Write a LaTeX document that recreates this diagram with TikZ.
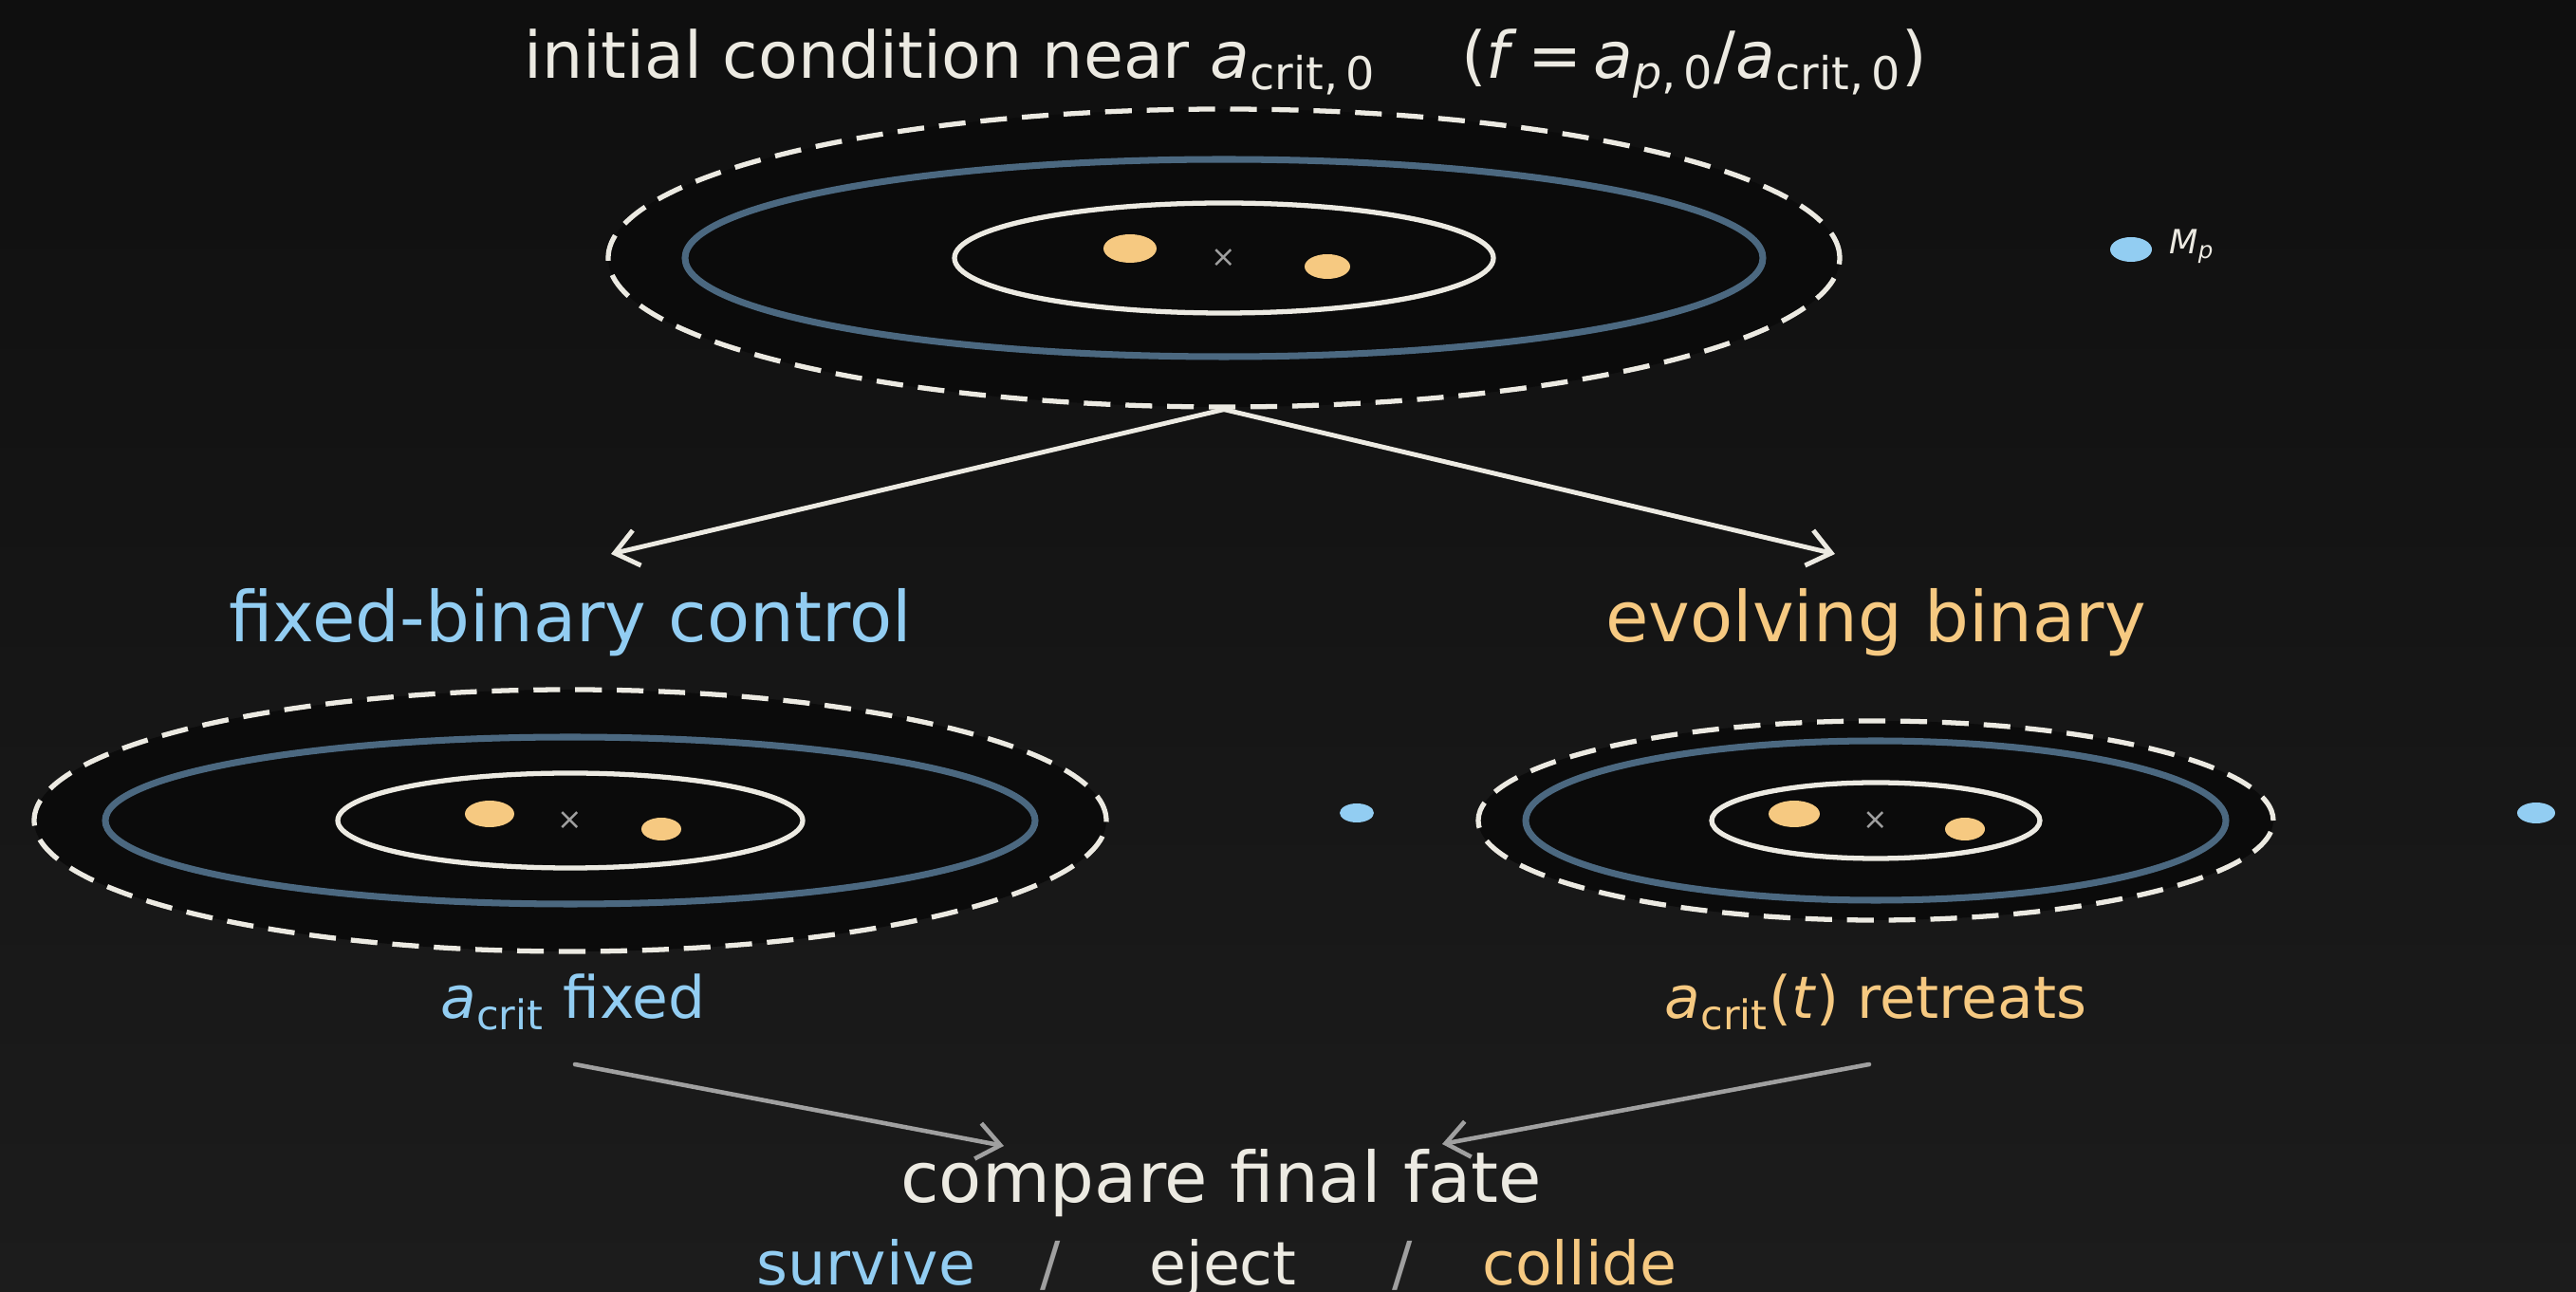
\documentclass[tikz,border=0pt]{standalone}
\usepackage{fontspec}
\setmainfont{DejaVu Sans}
\usepackage{tikz}
\usetikzlibrary{arrows.meta,shapes.geometric}
\definecolor{FBTop}{HTML}{0F0F0F}
\definecolor{FBBot}{HTML}{1C1C1C}
\definecolor{FBDisc}{HTML}{0B0B0B}
\definecolor{FBWhite}{HTML}{ECEAE2}
\definecolor{FBSlate}{HTML}{4B6880}
\definecolor{FBBlue}{HTML}{92CDF2}
\definecolor{FBGold}{HTML}{F6C981}
\definecolor{FBGrey}{HTML}{A0A0A0}
\newcommand{\acrit}{\textit{a}\textsubscript{crit}}

\begin{document}
\begin{tikzpicture}[x=1cm,y=1cm,
  hillring/.style={ellipse,inner sep=0pt,draw=FBWhite,fill=FBDisc,line width=1.5pt,dash pattern=on 8pt off 4.5pt},
  critring/.style={draw=FBSlate,line width=2pt},
  binring/.style={draw=FBWhite,line width=1.5pt},
  binstar/.style={fill=FBGold},
  planet/.style={fill=FBBlue},
  comx/.style={text=FBGrey,font=\fontsize{9}{9}\selectfont},
  flow/.style={draw=FBWhite,line width=1.4pt,line cap=round,-{Straight Barb[length=2.4mm,width=3.8mm,line width=1.4pt]}},
  fate/.style={draw=FBGrey,line width=1.3pt,line cap=round,-{Straight Barb[length=2.4mm,width=3.8mm,line width=1.3pt]}},
  big/.style={font=\fontsize{21}{24}\selectfont},
  mid/.style={font=\fontsize{19.4}{22}\selectfont},
  lab/.style={font=\fontsize{17.5}{21}\selectfont},
  small/.style={font=\fontsize{18}{21}\selectfont}]
\path[use as bounding box] (0,0) rectangle (27.15,13.62);
\shade[top color=FBTop,bottom color=FBBot] (0,0) rectangle (27.15,13.62);
% title
\node[mid,text=FBWhite,anchor=base] (title) at (12.92,12.79) {initial condition near \textit{a}\textsubscript{crit,\,0}\hspace{0.9cm}(\textit{f}\,=\,\textit{a}\textsubscript{\textit{p},\,0}/\textit{a}\textsubscript{crit,\,0})};
% initial system
\node[hillring,minimum width=12.98cm,minimum height=3.14cm] (init) at (12.90,10.90) {};
\draw[critring] (12.90,10.90) ellipse [x radius=5.68,y radius=1.04];
\draw[binring] (12.90,10.90) ellipse [x radius=2.84,y radius=0.58];
\fill[binstar] (11.91,11.00) ellipse [x radius=0.28,y radius=0.15];
\fill[binstar] (13.99,10.81) ellipse [x radius=0.24,y radius=0.13];
\node[comx] (initcom) at (12.90,10.90) {×};
\fill[planet] (22.46,10.99) ellipse [x radius=0.22,y radius=0.13];
\node[anchor=west,text=FBWhite,font=\fontsize{10}{12}\selectfont] (mp) at (22.74,11.02) {\textit{M}\textsubscript{\textit{p}}};
% branches
\node[big,text=FBBlue,anchor=base] (ctl) at (6.01,6.85) {fixed-binary control};
\node[big,text=FBGold,anchor=base] (evo) at (19.77,6.85) {evolving binary};
\coordinate (ctlin) at (6.44,7.78);
\coordinate (evoin) at (19.34,7.78);
\draw[flow] (init.south) -- (ctlin);
\draw[flow] (init.south) -- (evoin);
% fixed binary
\node[hillring,minimum width=11.30cm,minimum height=2.76cm] (ctlsys) at (6.01,4.97) {};
\draw[critring] (6.01,4.97) ellipse [x radius=4.90,y radius=0.88];
\draw[binring] (6.01,4.97) ellipse [x radius=2.45,y radius=0.50];
\fill[binstar] (5.16,5.04) ellipse [x radius=0.26,y radius=0.14];
\fill[binstar] (6.97,4.88) ellipse [x radius=0.21,y radius=0.12];
\node[comx] (ctlcom) at (6.01,4.97) {×};
\fill[planet] (14.30,5.05) ellipse [x radius=0.18,y radius=0.10];
\node[lab,text=FBBlue,anchor=base] (ctllab) at (6.04,2.88) {\acrit{} fixed};
% evolving binary
\node[hillring,minimum width=8.38cm,minimum height=2.10cm] (evosys) at (19.77,4.97) {};
\draw[critring] (19.77,4.97) ellipse [x radius=3.69,y radius=0.84];
\draw[binring] (19.77,4.97) ellipse [x radius=1.73,y radius=0.40];
\fill[binstar] (18.91,5.04) ellipse [x radius=0.27,y radius=0.14];
\fill[binstar] (20.71,4.88) ellipse [x radius=0.21,y radius=0.12];
\node[comx] (evocom) at (19.77,4.97) {×};
\fill[planet] (26.73,5.05) ellipse [x radius=0.20,y radius=0.11];
\node[lab,text=FBGold,anchor=base] (evolab) at (19.77,2.88) {\acrit(\textit{t}) retreats};
% outcome
\node[big,text=FBWhite,anchor=base] (cmp) at (12.87,0.94) {compare final fate};
\coordinate (ctlout) at (6.06,2.40);
\coordinate (evoout) at (19.70,2.40);
\coordinate (cmpl) at (10.58,1.54);
\coordinate (cmpr) at (15.20,1.56);
\draw[fate] (ctlout) -- (cmpl);
\draw[fate] (evoout) -- (cmpr);
\node[small,text=FBBlue,anchor=base] (surv) at (9.13,0.07) {survive};
\node[small,text=FBGrey,anchor=base] (sla) at (11.07,0.07) {/};
\node[small,text=FBWhite,anchor=base] (ej) at (12.89,0.07) {eject};
\node[small,text=FBGrey,anchor=base] (slb) at (14.78,0.07) {/};
\node[small,text=FBGold,anchor=base] (col) at (16.65,0.07) {collide};
\end{tikzpicture}
\end{document}
